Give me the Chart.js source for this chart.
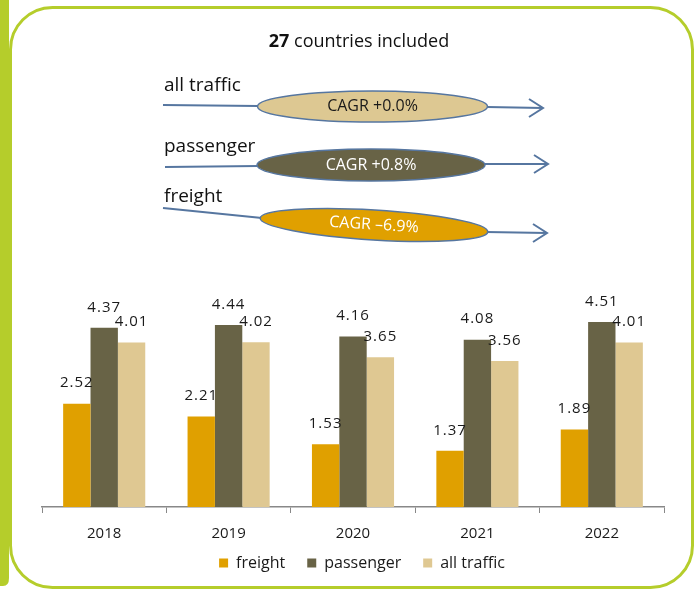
<!DOCTYPE html>
<html>
<head>
<meta charset="utf-8">
<script src="https://cdn.jsdelivr.net/npm/chart.js@4/dist/chart.umd.min.js"></script>
<style>
  html, body { margin: 0; padding: 0; background: #fff; }
  #wrap { width: 698px; height: 589px; position: relative; }
</style>
</head>
<body>
<div id="wrap"><canvas id="bar-chart"></canvas></div>
<script>
// data
const years = ['2018', '2019', '2020', '2021', '2022'];
const freight = [2.52, 2.21, 1.53, 1.37, 1.89];
const passenger = [4.37, 4.44, 4.16, 4.08, 4.51];
const allTraffic = [4.01, 4.02, 3.65, 3.56, 4.01];
const seriesNames = ['freight', 'passenger', 'all traffic'];
const cagrLabels = ['CAGR +0.0%', 'CAGR +0.8%', 'CAGR \u20136.9%'];
const countriesIncluded = 27;

const FONT = '"Open Sans", sans-serif';
const LIME = '#b5cd2b';
const ARROW = '#5676a0';

// frame, header and the CAGR arrows
const decor = {
    id: 'decor',
    afterLayout(chart) {
        // pull the legend up closer to the axis labels
        const lg = chart.legend;
        if (lg) {
            lg.top -= 22;
            lg.height += 22;
            lg.left += 9;
            lg.right += 9;
        }
    },
    beforeDraw(chart) {
        const ctx = chart.ctx;
        ctx.save();
        // left bar
        ctx.fillStyle = LIME;
        ctx.beginPath();
        ctx.moveTo(0, 0);
        ctx.lineTo(9, 0);
        ctx.lineTo(9, 578);
        ctx.quadraticCurveTo(9, 586, 3, 586);
        ctx.lineTo(0, 586);
        ctx.closePath();
        ctx.fill();
        // rounded frame
        ctx.strokeStyle = LIME;
        ctx.lineWidth = 3;
        ctx.beginPath();
        ctx.roundRect(10.5, 7.5, 682, 580, 42);
        ctx.stroke();
        ctx.restore();
    },
    afterDraw(chart) {
        const ctx = chart.ctx;
        ctx.save();
        // header
        ctx.fillStyle = '#111';
        ctx.textBaseline = 'middle';
        ctx.font = 'bold 18px ' + FONT;
        const a = String(countriesIncluded);
        const b = ' countries included';
        const wa = ctx.measureText(a).width;
        ctx.font = '18px ' + FONT;
        const wb = ctx.measureText(b).width;
        let x = 359 - (wa + wb) / 2;
        ctx.font = 'bold 18px ' + FONT;
        ctx.textAlign = 'left';
        ctx.fillText(a, x, 42);
        ctx.font = '18px ' + FONT;
        ctx.fillText(b, x + wa, 42);

        const rows = [
            {name: seriesNames[2], ny: 86, l0: [163, 105], l1: [258, 106], c: [372.5, 106.5], rx: 115, ry: 15.5, rot: 0,
             r0: [487, 107], r1: [543, 108], fill: '#ddc892', txt: '#1a1a1a', label: cagrLabels[0]},
            {name: seriesNames[1], ny: 147, l0: [165, 167], l1: [258, 166], c: [371, 165], rx: 114, ry: 16, rot: 0,
             r0: [484, 164], r1: [548, 164], fill: '#686346', txt: '#ffffff', label: cagrLabels[1]},
            {name: seriesNames[0], ny: 197, l0: [163, 208], l1: [262, 218], c: [374, 225], rx: 114, ry: 15, rot: 0.06,
             r0: [486, 232], r1: [547, 233], fill: '#e0a000', txt: '#ffffff', label: cagrLabels[2]}
        ];
        rows.forEach(r => {
            ctx.fillStyle = '#111';
            ctx.font = '19px ' + FONT;
            ctx.textAlign = 'left';
            ctx.textBaseline = 'middle';
            ctx.fillText(r.name, 164, r.ny);

            ctx.strokeStyle = ARROW;
            ctx.lineWidth = 2;
            ctx.beginPath();
            ctx.moveTo(r.l0[0], r.l0[1]);
            ctx.lineTo(r.l1[0], r.l1[1]);
            ctx.moveTo(r.r0[0], r.r0[1]);
            ctx.lineTo(r.r1[0], r.r1[1]);
            ctx.moveTo(r.r1[0] - 14, r.r1[1] - 9);
            ctx.lineTo(r.r1[0], r.r1[1]);
            ctx.lineTo(r.r1[0] - 14, r.r1[1] + 9);
            ctx.stroke();

            ctx.beginPath();
            ctx.ellipse(r.c[0], r.c[1], r.rx, r.ry, r.rot, 0, Math.PI * 2);
            ctx.fillStyle = r.fill;
            ctx.fill();
            ctx.lineWidth = 1.5;
            ctx.stroke();

            ctx.save();
            ctx.translate(r.c[0], r.c[1]);
            ctx.rotate(r.rot);
            ctx.fillStyle = r.txt;
            ctx.font = '16px ' + FONT;
            ctx.textAlign = 'center';
            ctx.fillText(r.label, 0, 0);
            ctx.restore();
        });

        // value labels above bars
        ctx.fillStyle = '#1a1a1a';
        ctx.font = '15px ' + FONT;
        ctx.textAlign = 'center';
        ctx.textBaseline = 'bottom';
        if ('letterSpacing' in ctx) ctx.letterSpacing = '1px';
        chart.data.datasets.forEach((ds, i) => {
            chart.getDatasetMeta(i).data.forEach((bar, j) => {
                ctx.fillText(ds.data[j].toFixed(2), bar.x, bar.y - 13);
            });
        });
        ctx.restore();
    }
};

new Chart(document.getElementById('bar-chart'), {
    type: 'bar',
    data: {
        labels: years,
        datasets: [
            {label: seriesNames[0], data: freight, backgroundColor: '#e0a000'},
            {label: seriesNames[1], data: passenger, backgroundColor: '#686346'},
            {label: seriesNames[2], data: allTraffic, backgroundColor: '#dfc892'}
        ]
    },
    options: {
        responsive: true,
        maintainAspectRatio: false,
        animation: false,
        categoryPercentage: 0.66,
        barPercentage: 1,
        layout: {padding: {top: 302, left: 42, right: 34, bottom: 10}},
        plugins: {
            tooltip: {enabled: false},
            legend: {
                position: 'bottom',
                maxHeight: 24,
                labels: {
                    boxWidth: 9,
                    boxHeight: 9,
                    padding: 22,
                    color: '#1a1a1a',
                    font: {family: FONT, size: 16}
                }
            }
        },
        scales: {
            x: {
                grid: {display: true, offset: true, drawOnChartArea: false, drawTicks: true, tickLength: 6, color: '#888'},
                border: {color: '#888', width: 1.5},
                ticks: {color: '#1a1a1a', padding: 12, font: {family: FONT, size: 15}}
            },
            y: {
                display: false,
                min: 0,
                max: 5
            }
        }
    },
    plugins: [decor]
});
</script>
</body>
</html>
